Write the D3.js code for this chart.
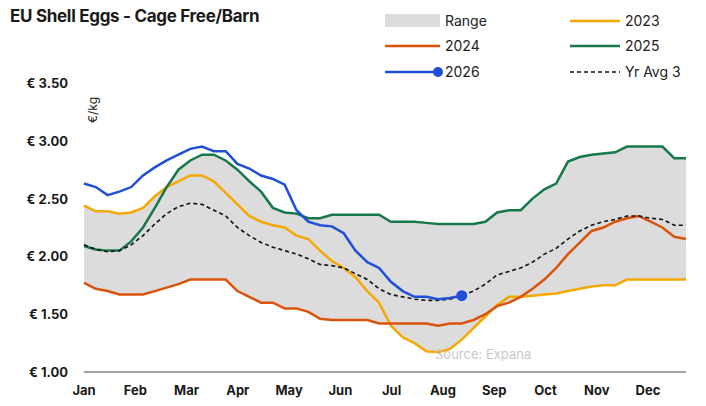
<!DOCTYPE html><html><head><meta charset="utf-8"><script src="https://cdn.jsdelivr.net/npm/d3@7"></script>
<style>body{margin:0;background:#fff;font-family:Inter,"Noto Sans",sans-serif}</style></head><body><svg id="c" width="706" height="406"></svg>
<script>
const months=["Jan","Feb","Mar","Apr","May","Jun","Jul","Aug","Sep","Oct","Nov","Dec"];
const yTicks=[1.0,1.5,2.0,2.5,3.0,3.5];
const s2023=[2.44,2.39,2.39,2.37,2.38,2.42,2.52,2.60,2.65,2.70,2.70,2.65,2.55,2.45,2.35,2.30,2.27,2.25,2.18,2.15,2.05,1.96,1.90,1.82,1.70,1.60,1.40,1.30,1.25,1.18,1.17,1.20,1.28,1.38,1.48,1.58,1.65,1.65,1.66,1.67,1.68,1.70,1.72,1.74,1.75,1.75,1.80,1.80,1.80,1.80,1.80,1.80];
const s2024=[1.77,1.72,1.70,1.67,1.67,1.67,1.70,1.73,1.76,1.80,1.80,1.80,1.80,1.70,1.65,1.60,1.60,1.55,1.55,1.52,1.46,1.45,1.45,1.45,1.45,1.42,1.42,1.42,1.42,1.42,1.40,1.42,1.42,1.45,1.50,1.57,1.60,1.65,1.72,1.80,1.90,2.02,2.12,2.22,2.25,2.30,2.33,2.35,2.30,2.25,2.17,2.15];
const s2025=[2.09,2.06,2.05,2.05,2.13,2.25,2.42,2.60,2.75,2.83,2.88,2.88,2.83,2.75,2.65,2.56,2.42,2.38,2.37,2.33,2.33,2.36,2.36,2.36,2.36,2.36,2.30,2.30,2.30,2.29,2.28,2.28,2.28,2.28,2.30,2.38,2.40,2.40,2.50,2.58,2.63,2.82,2.86,2.88,2.89,2.90,2.95,2.95,2.95,2.95,2.85,2.85];
const s2026=[2.63,2.60,2.53,2.56,2.60,2.70,2.77,2.83,2.88,2.93,2.95,2.91,2.91,2.80,2.76,2.70,2.67,2.62,2.40,2.30,2.27,2.26,2.20,2.05,1.95,1.90,1.78,1.70,1.65,1.65,1.63,1.64,1.66];
const avg3=[2.10,2.06,2.04,2.05,2.10,2.18,2.28,2.37,2.43,2.46,2.45,2.40,2.35,2.25,2.18,2.12,2.08,2.05,2.02,1.98,1.93,1.92,1.90,1.85,1.80,1.72,1.67,1.65,1.63,1.62,1.62,1.63,1.66,1.70,1.76,1.84,1.87,1.90,1.95,2.02,2.07,2.15,2.22,2.27,2.30,2.32,2.35,2.35,2.33,2.32,2.27,2.27];
const rangeLo=s2023.map((v,i)=>Math.min(v,s2024[i],s2025[i]));
const rangeHi=s2023.map((v,i)=>Math.max(v,s2024[i],s2025[i]));
const svg=d3.select("#c");
const x=d3.scaleLinear().domain([0,51]).range([84,686]);
const y=d3.scaleLinear().domain([1,3.5]).range([372,83]);
const xm=d3.scalePoint().domain(months).range([84,648]);
svg.append("text").attr("x",10).attr("y",22).attr("font-size",17).attr("font-weight",700).attr("fill","#1a1a1a").attr("letter-spacing","-0.3").text("EU Shell Eggs - Cage Free/Barn");
svg.append("path").datum(d3.range(52)).attr("fill","#dcdcdc")
 .attr("d",d3.area().x(i=>x(i)).y0(i=>y(rangeLo[i])).y1(i=>y(rangeHi[i])));
const line=d3.line().x((d,i)=>x(i)).y(d=>y(d));
const series=[[s2023,"#f5a800",null],[s2024,"#d9540a",null],[s2025,"#17794a",null],[avg3,"#111","4,3"],[s2026,"#1f4fd8",null]];
series.forEach(([d,c,da])=>svg.append("path").datum(d).attr("fill","none").attr("stroke",c).attr("stroke-width",da?1.6:2.5).attr("stroke-dasharray",da).attr("d",line));
svg.append("circle").attr("cx",x(s2026.length-1)).attr("cy",y(s2026[s2026.length-1])).attr("r",5.5).attr("fill","#1f4fd8");
svg.append("line").attr("x1",84).attr("x2",686).attr("y1",372).attr("y2",372).attr("stroke","#444");
const g=svg.append("g").attr("font-size",13).attr("font-weight",700).attr("fill","#1a1a1a");
yTicks.forEach(t=>g.append("text").attr("x",68).attr("y",y(t)+5).attr("text-anchor","end").text("€ "+t.toFixed(2)));
months.forEach(m=>g.append("text").attr("x",xm(m)).attr("y",395).attr("text-anchor","middle").text(m));
svg.append("text").attr("transform","translate(97,110) rotate(-90)").attr("font-size",12).attr("text-anchor","middle").attr("fill","#222").text("€/kg");
svg.append("text").attr("x",435).attr("y",359).attr("font-size",13).attr("fill","#c8c8c8").text("Source: Expana");
const L=svg.append("g").attr("font-size",14).attr("fill","#222");
L.append("rect").attr("x",385).attr("y",14).attr("width",55).attr("height",13).attr("fill","#dcdcdc");
L.append("text").attr("x",445).attr("y",26).text("Range");
L.append("line").attr("x1",570).attr("x2",620).attr("y1",21).attr("y2",21).attr("stroke","#f5a800").attr("stroke-width",2.5);
L.append("text").attr("x",625).attr("y",26).text("2023");
L.append("line").attr("x1",385).attr("x2",440).attr("y1",46).attr("y2",46).attr("stroke","#d9540a").attr("stroke-width",2.5);
L.append("text").attr("x",445).attr("y",51).text("2024");
L.append("line").attr("x1",570).attr("x2",620).attr("y1",46).attr("y2",46).attr("stroke","#17794a").attr("stroke-width",2.5);
L.append("text").attr("x",625).attr("y",51).text("2025");
L.append("line").attr("x1",385).attr("x2",440).attr("y1",72).attr("y2",72).attr("stroke","#1f4fd8").attr("stroke-width",2.5);
L.append("circle").attr("cx",438).attr("cy",72).attr("r",5).attr("fill","#1f4fd8");
L.append("text").attr("x",445).attr("y",77).text("2026");
L.append("line").attr("x1",570).attr("x2",620).attr("y1",72).attr("y2",72).attr("stroke","#111").attr("stroke-width",1.6).attr("stroke-dasharray","4,3");
L.append("text").attr("x",625).attr("y",77).text("Yr Avg 3");
</script></body></html>
